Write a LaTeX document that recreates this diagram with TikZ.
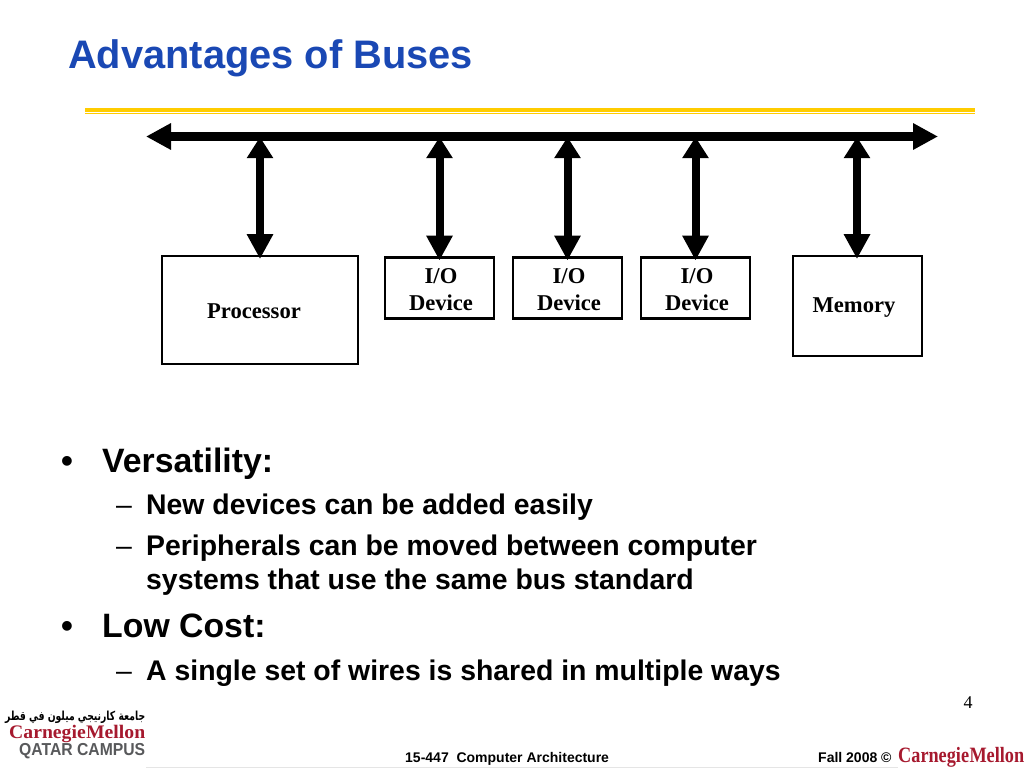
\documentclass[tikz,border=0pt]{standalone}
\usepackage{fontspec}
\usepackage{graphicx}
\usetikzlibrary{arrows.meta}
\setmainfont{Liberation Sans}
\newfontfamily\timesf{Liberation Serif}
\newfontfamily\arabicfont[Script=Arabic]{DejaVu Sans}
\TeXXeTstate=1
\definecolor{titleblue}{HTML}{1A48B4}
\definecolor{rulegold}{HTML}{FFCC00}
\definecolor{cmured}{HTML}{A6192E}
\definecolor{cmugray}{HTML}{58595B}
\tikzset{
  busarrow/.style={line width=8.5pt,{Triangle[length=25pt,width=25pt]}-{Triangle[length=25pt,width=25pt]}},
  linkarrow/.style={line width=8pt,shorten <=-1pt,shorten >=-3pt,{Triangle[length=21pt,width=25pt]}-{Triangle[length=25pt,width=25pt]}},
  unitbox/.style={draw=black,line width=2.6pt,fill=white,inner sep=0pt,outer sep=0pt},
  unitlabel/.style={anchor=base,inner sep=0pt,font=\timesf\bfseries\fontsize{22.6}{27}\selectfont},
  titletext/.style={anchor=base west,inner sep=0pt,text=titleblue,font=\bfseries\fontsize{39.8}{44}\selectfont},
  lvlone/.style={anchor=base west,inner sep=0pt,font=\bfseries\fontsize{33.8}{38}\selectfont},
  lvltwo/.style={anchor=base west,inner sep=0pt,font=\bfseries\fontsize{28.4}{33}\selectfont},
  dashmark/.style={anchor=base west,inner sep=0pt,font=\fontsize{28.4}{33}\selectfont},
  foot/.style={anchor=base west,inner sep=0pt,font=\bfseries\fontsize{14}{16}\selectfont},
}
\begin{document}
\begin{tikzpicture}[x=1pt,y=-1pt]
\useasboundingbox[fill=white] (0,0) rectangle (1024,768);
% title and rule
\node[titletext] (title) at (68,68) {Advantages of Buses};
\coordinate (ruleL) at (85,110);
\coordinate (ruleR) at (975,110);
\draw[rulegold,line width=4.5pt] (ruleL) -- (ruleR);
\coordinate (rule2L) at (85,113.8);
\coordinate (rule2R) at (975,113.8);
\draw[rulegold,line width=1.1pt] (rule2L) -- (rule2R);
% boxes
\node[unitbox,minimum width=196pt,minimum height=108pt] (proc) at (260,310) {};
\node[unitbox,minimum width=109pt,minimum height=61pt] (io1) at (439.5,288) {};
\node[unitbox,minimum width=109pt,minimum height=61pt] (io2) at (567.5,288) {};
\node[unitbox,minimum width=109pt,minimum height=61pt] (io3) at (695.5,288) {};
\node[unitbox,minimum width=129pt,minimum height=100pt] (mem) at (857.5,306) {};
\node[unitlabel] (proctext) at (254,318.5) {Processor};
\node[unitlabel] (memtext) at (854,312.5) {Memory};
\foreach \n/\x in {1/441,2/569,3/697}{
  \node[unitlabel] (iotop\n) at (\x,283) {I/O};
  \node[unitlabel] (iobot\n) at (\x,310) {Device};
}
% bus
\coordinate (busL) at (146,136.5);
\coordinate (busR) at (938,136.5);
\draw[busarrow] (busL) -- (busR);
\foreach \n/\x in {proc/260,io1/439.5,io2/567.5,io3/695.5,mem/857}{
  \coordinate (tap\n) at (\x,138);
  \draw[linkarrow] (tap\n) -- (tap\n |- \n.north);
}
% bullets
\node[lvlone] (b1) at (61,472) {•};
\node[lvlone] (t1) at (102,472) {Versatility:};
\node[dashmark] (d1) at (116,514) {–};
\node[lvltwo] (t2) at (146,514) {New devices can be added easily};
\node[dashmark] (d2) at (116,555) {–};
\node[lvltwo] (t3) at (146,555) {Peripherals can be moved between computer};
\node[lvltwo] (t4) at (146,589) {systems that use the same bus standard};
\node[lvlone] (b2) at (61,637) {•};
\node[lvlone] (t5) at (102,637) {Low Cost:};
\node[dashmark] (d3) at (116,680) {–};
\node[lvltwo] (t6) at (146,680) {A single set of wires is shared in multiple ways};
\node[anchor=base,inner sep=0pt,font=\timesf\fontsize{18}{20}\selectfont] (pg) at (968,708) {4};
% footer
\coordinate (footL) at (146,767.3);
\coordinate (footR) at (898,767.3);
\draw[black!10,line width=0.8pt] (footL) -- (footR);
\node[foot] (course) at (405,762) {15-447\ \ Computer Architecture};
\node[foot] (term) at (818,762) {Fall 2008 ©};
\node[anchor=west,inner sep=0pt,text=cmured] (cmu) at (898,757.5)
  {\resizebox*{126pt}{20pt}{\timesf\bfseries Carnegie\kern0.02em Mellon}};
% logo
\node[anchor=west,inner sep=0pt] (ar) at (5,717)
  {\resizebox*{140pt}{12.5pt}{\arabicfont\bfseries\beginR جامعة كارنيجي ميلون في قطر\endR}};
\node[anchor=west,inner sep=0pt,text=cmured] (cmuq) at (9,733.5)
  {\resizebox*{136pt}{17.5pt}{\timesf\bfseries Carnegie\kern0.02em Mellon}};
\node[anchor=west,inner sep=0pt,text=cmugray] (qatar) at (19,751.5)
  {\resizebox*{126pt}{15.5pt}{\bfseries QATAR CAMPUS}};
\end{tikzpicture}
\end{document}
